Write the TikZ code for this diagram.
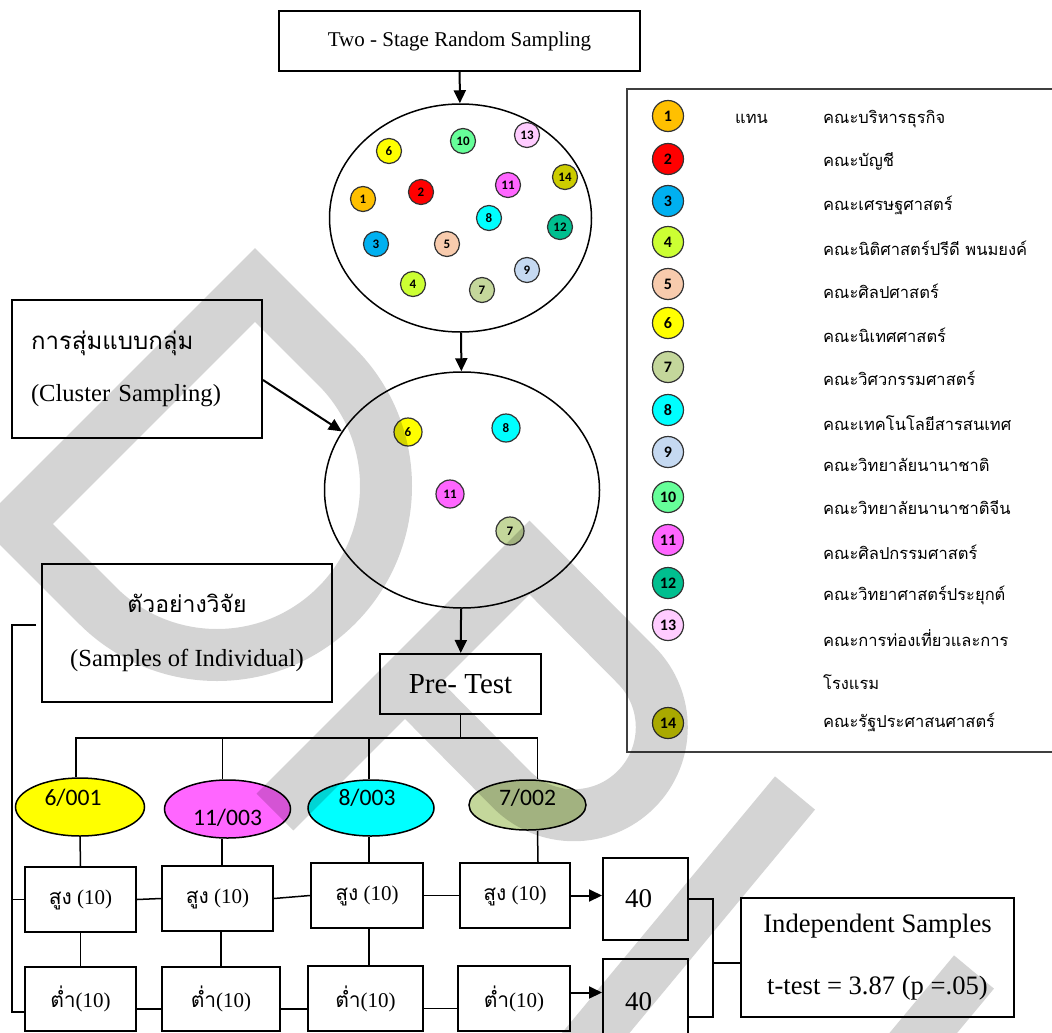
\documentclass[tikz,border=0pt]{standalone}
\usepackage{fontspec}
\setmainfont{Liberation Serif}
\newfontfamily\thaifont[Script=Thai]{Loma}
\newfontfamily\calfont{Carlito}
\usetikzlibrary{shapes.geometric,arrows.meta}

\definecolor{f1}{HTML}{FFC000}
\definecolor{f2}{HTML}{FF0000}
\definecolor{f3}{HTML}{00B0F0}
\definecolor{f4}{HTML}{CCFF33}
\definecolor{f5}{HTML}{F8CBAD}
\definecolor{f6}{HTML}{FFFF00}
\definecolor{f7}{HTML}{C4D79B}
\definecolor{f8}{HTML}{00FFFF}
\definecolor{f9}{HTML}{C5D9F1}
\definecolor{f10}{HTML}{66FF99}
\definecolor{f11}{HTML}{FF66FF}
\definecolor{f12}{HTML}{00BF8F}
\definecolor{f13}{HTML}{FFCCFF}
\definecolor{f14}{HTML}{CCCC00}
\definecolor{framegray}{HTML}{3F3F3F}

\tikzset{
  box/.style={draw, line width=2pt, inner sep=0pt, align=center},
  pool/.style={ellipse, draw, line width=1.5pt, inner sep=0pt},
  fac/.style={circle, draw=black!80, line width=1.2pt, minimum size=25pt, inner sep=0pt,
    font=\calfont\bfseries\fontsize{13}{13}\selectfont},
  pick/.style={fac, minimum size=28pt},
  key/.style={fac, minimum size=31pt, font=\calfont\bfseries\fontsize{16}{16}\selectfont},
  keytext/.style={anchor=west, inner sep=0pt, font=\thaifont\fontsize{16.5}{16.5}\selectfont},
  grp/.style={ellipse, draw, line width=1.5pt, inner sep=0pt},
  grptext/.style={font=\calfont\fontsize{23.6}{24}\selectfont},
  level/.style={box, minimum width=111pt, minimum height=65pt, font=\fontsize{21}{21}\selectfont},
  total/.style={box, minimum width=85pt, font=\fontsize{27}{27}\selectfont},
  arr/.style={line width=2pt, -{Triangle[length=13pt,width=12pt]}},
  link/.style={line width=1.5pt},
  wmark/.style={line width=52pt, black, opacity=0.17, line join=miter}
}

\begin{document}
\begin{tikzpicture}[x=1pt,y=-1pt]
\path[use as bounding box] (0,0) rectangle (1052,1033);

% sampling frame
\node[box, line width=1.5pt, minimum width=361pt, minimum height=60pt,
  font=\fontsize{21}{21}\selectfont] (two) at (459.5,41) {Two - Stage Random Sampling};
\node[pool, minimum width=262pt, minimum height=228pt] (ell1) at (460.5,218) {};
\foreach \n/\x/\y in {6/389/151, 10/463/141, 13/527/135, 14/565/177, 1/363/199,
  2/421/192, 11/508/185, 8/489/218, 12/560/227, 3/376/244, 5/447/244,
  9/527/270, 4/413/284, 7/482/290}
  \node[fac, fill=f\n] (a\n) at (\x,\y) {\n};

\node[pool, minimum width=275pt, minimum height=236pt] (ell2) at (462,490) {};
\foreach \n/\x/\y in {6/408/432, 8/506/428, 11/450/494, 7/510/531}
  \node[pick, fill=f\n] (b\n) at (\x,\y) {\n};

\draw[arr] (two) -- (ell1);
\draw[arr] (ell1) -- (ell2);

% side boxes
\node[box, minimum width=250pt, minimum height=138pt, text width=212pt, align=left,
  font=\fontsize{24.6}{52}\selectfont] (cluster) at (137,369)
  {{\thaifont\fontsize{24}{52}\selectfont การสุ่มแบบกลุ่ม}\\(Cluster Sampling)};
\draw[arr] ([yshift=-11pt]cluster.east) -- (ell2.154);

\node[box, minimum width=290pt, minimum height=138pt,
  font=\fontsize{24.6}{54}\selectfont] (samp) at (187,633)
  {{\thaifont\fontsize{23}{54}\selectfont ตัวอย่างวิจัย}\\(Samples of Individual)};

% legend
\draw[draw=framegray, line width=2.5pt] (1052,89) -- (627,89) -- (627,752) -- (1052,752);
\foreach \n/\y in {1/116, 2/159, 3/201, 4/242, 5/284, 6/323, 7/367, 8/410,
  9/452, 10/497, 11/540, 12/583, 13/625, 14/723}
  \node[key, fill=f\n] (k\n) at (668,\y) {\n};
\node[keytext] (sym) at (735,119) {แทน};
\foreach \n/\y/\t in {1/119/คณะบริหารธุรกิจ, 2/161/คณะบัญชี, 3/205/คณะเศรษฐศาสตร์,
  4/248/คณะนิติศาสตร์ปรีดี พนมยงค์, 5/291/คณะศิลปศาสตร์, 6/335/คณะนิเทศศาสตร์,
  7/378/คณะวิศวกรรมศาสตร์, 8/423/คณะเทคโนโลยีสารสนเทศ, 9/465/คณะวิทยาลัยนานาชาติ,
  10/508/คณะวิทยาลัยนานาชาติจีน, 11/552/คณะศิลปกรรมศาสตร์,
  12/595/คณะวิทยาศาสตร์ประยุกต์, 13/638/คณะการท่องเที่ยวและการ,
  14/722/คณะรัฐประศาสนศาสตร์}
  \node[keytext] (d\n) at (823,\y) {\t};
\node[keytext] (d13b) at (823,682) {โรงแรม};

% pre-test and groups
\node[box, minimum width=161pt, minimum height=60pt, font=\fontsize{29}{29}\selectfont]
  (pre) at (460.5,684) {Pre- Test};
\draw[arr] (ell2) -- (pre);

\node[grp, fill=f6, minimum width=129pt, minimum height=58pt,
  label={[grptext, xshift=-7pt, yshift=9pt]center:6/001}] (g1) at (80,807) {};
\node[grp, fill=f11, minimum width=126pt, minimum height=58pt,
  label={[grptext, yshift=-9pt]center:11/003}] (g2) at (227.5,809) {};
\node[grp, fill=f8, minimum width=126pt, minimum height=56pt,
  label={[grptext, xshift=-4pt, yshift=10pt]center:8/003}] (g3) at (371,808) {};
\node[grp, fill=f7, minimum width=117pt, minimum height=50pt,
  label={[grptext, yshift=7pt]center:7/002}] (g4) at (527.5,805) {};

\draw[link] (pre.south) -- ++(0,23) -| ([xshift=-4pt]g1.north);
\draw[link] (pre.south) -- ++(0,23) -| ([xshift=-5pt]g2.north);
\draw[link] (pre.south) -- ++(0,23) -| ([xshift=-2pt]g3.north);
\draw[link] (pre.south) -- ++(0,23) -| ([xshift=10pt]g4.north);

% high / low rows
\node[level] (h1) at (80.5,899.5) {{\thaifont สูง} (10)};
\node[level] (h2) at (217.5,898.5) {{\thaifont สูง} (10)};
\node[level, minimum width=112pt] (h3) at (367,895.5) {{\thaifont สูง} (10)};
\node[level, minimum width=110pt] (h4) at (515,895.5) {{\thaifont สูง} (10)};
\node[level, minimum height=64pt] (l1) at (80.5,999) {{\thaifont ต่ำ}(10)};
\node[level, minimum width=118pt, minimum height=64pt] (l2) at (221,999) {{\thaifont ต่ำ}(10)};
\node[level, minimum width=115pt, minimum height=65pt] (l3) at (365.5,998.5) {{\thaifont ต่ำ}(10)};
\node[level, minimum width=112pt, minimum height=65pt] (l4) at (514,998.5) {{\thaifont ต่ำ}(10)};
\node[total, minimum height=82pt] (n1) at (645.5,899) {40\hspace{14pt}};
\node[total, minimum height=87pt] (n2) at (645.5,1002) {40\hspace{14pt}};

\draw[link] (g1.south) -- (h1.north);
\draw[link] ([xshift=-5.5pt]g2.south) -- ([xshift=4.5pt]h2.north);
\draw[link] ([xshift=-2pt]g3.south) -- ([xshift=2pt]h3.north);
\draw[link] ([xshift=10pt]g4.south) -- ([xshift=23pt]h4.north);

\draw[link] (h1) -- (l1);
\draw[link] ([xshift=3.5pt]h2.south) -- (l2.north);
\draw[link] ([xshift=2pt]h3.south) -- ([xshift=3.5pt]l3.north);

\draw[link] (h1.east) -- (h2.west);
\draw[link] (h2.east) -- (h3.west);
\draw[link] (h3.east) -- (h4.west);
\draw[link] ([yshift=-10pt]l1.east) -- ([yshift=-10pt]l1.east -| l2.west);
\draw[link] ([yshift=-10pt]l2.east) -- ([yshift=-10pt]l2.east -| l3.west);
\draw[link] ([yshift=-10pt]l3.east) -- ([yshift=-10pt]l3.east -| l4.west);
\draw[arr] (h4.east) -- (h4.east -| n1.west);
\draw[arr] ([yshift=6pt]l4.east) -- ([yshift=6pt]l4.east -| n2.west);

% left bracket
\coordinate (lb) at (12,625);
\draw[link] ([xshift=-5pt]samp.west |- lb) -- (lb) |- ([yshift=-13pt]l1.west);
\draw[link] (lb |- h1.west) -- (h1.west);

% t-test
\node[box, minimum width=273pt, minimum height=119pt,
  font=\fontsize{26.6}{62}\selectfont] (ind) at (877.5,957.5)
  {Independent Samples\\t-test = 3.87 (p =.05)};
\coordinate (br) at (713,963);
\draw[link] (n1.east) -| (br) |- ([yshift=-15pt]n2.east);
\draw[link] (br) -- (br -| ind.west);

% watermark
\begin{scope}
\clip (0,0) rectangle (1052,1033);
\draw[wmark] (16,524) -- (255,285) -- (336.5,366.5)
  arc[start angle=-45, end angle=135, radius=169] -- cycle;
\draw[wmark] (275,812) -- (529.5,557.5) -- (636,665)
  arc[start angle=-45, end angle=135, radius=88] -- (405,682);
\draw[wmark] (795,793) -- (540,1100);
\draw[wmark] (974,972) -- (845,1127);
\end{scope}
\end{tikzpicture}
\end{document}
